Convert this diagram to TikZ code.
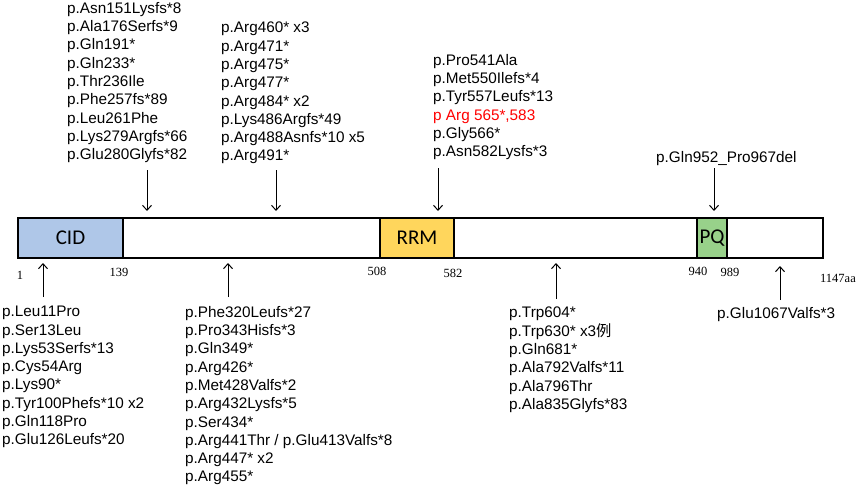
\documentclass[tikz,border=0pt]{standalone}
\usepackage{fontspec}
\setmainfont{Liberation Sans}
\newfontfamily\cjk{Noto Sans CJK SC}
\newfontfamily\numfont{Liberation Serif}
\newfontfamily\domfont{Carlito}
\usetikzlibrary{arrows.meta}
\definecolor{cidblue}{RGB}{175,199,232}
\definecolor{rrmgold}{RGB}{255,214,92}
\definecolor{pqgreen}{RGB}{152,209,138}
\begin{document}
\begin{tikzpicture}[x=1pt,y=-1pt,
  mut/.style={anchor=north west, inner sep=0pt, align=left, font=\fontsize{15.3}{18.3}\selectfont},
  poslabel/.style={font=\numfont\fontsize{12.5}{14}\selectfont, inner sep=0pt},
  dom/.style={draw=black, line width=2.5pt, font=\domfont\fontsize{21}{24}\selectfont, inner sep=0pt},
  arr/.style={line width=1pt, -{Straight Barb[length=5pt,width=9pt]}}]
\useasboundingbox[fill=white] (0,0) rectangle (858,487);

% protein bar and domains
\node[dom, minimum width=805pt, minimum height=40pt] (bar) at (420.5,238) {};
\node[dom, fill=cidblue, minimum width=105pt, minimum height=40pt] (cid) at (70.5,238) {CID};
\node[dom, fill=rrmgold, minimum width=74pt, minimum height=40pt] (rrm) at (417,238) {RRM};
\node[dom, fill=pqgreen, minimum width=30pt, minimum height=40pt] (pq) at (712,238) {PQ};

% positions
\node[poslabel] (p1) at (20,275) {1};
\node[poslabel] (p139) at (119,272) {139};
\node[poslabel] (p508) at (377,271) {508};
\node[poslabel] (p582) at (453,273) {582};
\node[poslabel] (p940) at (698,271) {940};
\node[poslabel] (p989) at (730,272) {989};
\node[poslabel] (p1147) at (838,278) {1147aa};

% top mutation lists
\node[mut] (t1) at (67,2) {p.Asn151Lysfs*8\\p.Ala176Serfs*9\\p.Gln191*\\p.Gln233*\\p.Thr236Ile\\p.Phe257fs*89\\p.Leu261Phe\\p.Lys279Argfs*66\\p.Glu280Glyfs*82};
\node[mut] (t2) at (221,22) {p.Arg460* x3\\p.Arg471*\\p.Arg475*\\p.Arg477*\\p.Arg484* x2\\p.Lys486Argfs*49\\p.Arg488Asnfs*10 x5\\p.Arg491*};
\node[mut] (t3) at (433,54) {p.Pro541Ala\\p.Met550Ilefs*4\\p.Tyr557Leufs*13\\\textcolor{red}{p Arg 565*,583}\\p.Gly566*\\p.Asn582Lysfs*3};
\node[mut] (t4) at (656,151) {p.Gln952\_Pro967del};

% bottom mutation lists
\node[mut] (b1) at (2,306) {p.Leu11Pro\\p.Ser13Leu\\p.Lys53Serfs*13\\p.Cys54Arg\\p.Lys90*\\p.Tyr100Phefs*10 x2\\p.Gln118Pro\\p.Glu126Leufs*20};
\node[mut] (b2) at (185,306) {p.Phe320Leufs*27\\p.Pro343Hisfs*3\\p.Gln349*\\p.Arg426*\\p.Met428Valfs*2\\p.Arg432Lysfs*5\\p.Ser434*\\p.Arg441Thr / p.Glu413Valfs*8\\p.Arg447* x2\\p.Arg455*};
\node[mut] (b3) at (509,307) {p.Trp604*\\p.Trp630* x3{\cjk 例}\\p.Gln681*\\p.Ala792Valfs*11\\p.Ala796Thr\\p.Ala835Glyfs*83};
\node[mut] (b4) at (717,307) {p.Glu1067Valfs*3};

% arrow ends
\coordinate (a1s) at (147,170); \coordinate (a1e) at (147,211);
\coordinate (a2s) at (276,170); \coordinate (a2e) at (276,211);
\coordinate (a3s) at (438,168); \coordinate (a3e) at (438,211);
\coordinate (a4s) at (714,168); \coordinate (a4e) at (714,211);
\coordinate (c1s) at (43,297); \coordinate (c1e) at (43,263);
\coordinate (c2s) at (228,297); \coordinate (c2e) at (228,263);
\coordinate (c3s) at (556,299); \coordinate (c3e) at (556,263);
\coordinate (c4s) at (780,300); \coordinate (c4e) at (780,266);

\draw[arr] (a1s) -- (a1e);
\draw[arr] (a2s) -- (a2e);
\draw[arr] (a3s) -- (a3e);
\draw[arr] (a4s) -- (a4e);
\draw[arr] (c1s) -- (c1e);
\draw[arr] (c2s) -- (c2e);
\draw[arr] (c3s) -- (c3e);
\draw[arr] (c4s) -- (c4e);
\end{tikzpicture}
\end{document}
